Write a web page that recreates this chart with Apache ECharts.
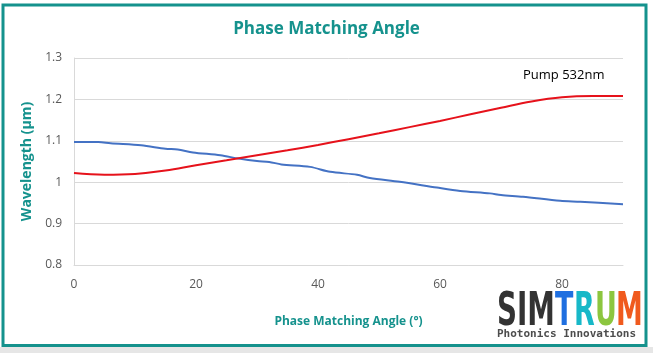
<!DOCTYPE html>
<html><head><meta charset="utf-8">
<script src="https://cdn.jsdelivr.net/npm/echarts@6/dist/echarts.min.js"></script>
<style>html,body{margin:0;padding:0;background:#fff}#c{width:653px;height:353px}</style>
</head><body><div id="c"></div>
<script>
var title = 'Phase Matching Angle';
var xName = 'Phase Matching Angle (°)';
var yName = 'Wavelength (µm)';
var xTicks = [0, 20, 40, 60, 80];
var yTicks = [0.8, 0.9, 1.0, 1.1, 1.2, 1.3];
var seriesLabel = 'Pump 532nm';

var redAngles = [0, 5, 10, 15, 20, 25, 30, 35, 40, 45, 50, 55, 60, 65, 70, 75, 80, 85, 90];
var redValues = [1.022, 1.018, 1.020, 1.028, 1.041, 1.053, 1.065, 1.077, 1.090, 1.104, 1.118, 1.133, 1.148, 1.164, 1.180, 1.195, 1.205, 1.208, 1.208];

var blueAngles = [0, 4, 6, 11, 15, 17, 19.5, 24, 27, 30, 32, 34, 38.7, 42, 46.4, 48.5, 53.4, 59.5, 63.3, 68.2, 70, 73.6, 79.7, 83, 90];
var blueValues = [1.097, 1.097, 1.094, 1.089, 1.081, 1.079, 1.072, 1.065, 1.057, 1.051, 1.049, 1.043, 1.037, 1.025, 1.018, 1.010, 1.001, 0.987, 0.979, 0.973, 0.969, 0.965, 0.955, 0.953, 0.947];

function pairs(xs, ys){ return xs.map(function(x,i){ return [x, ys[i]]; }); }

var teal = '#15928d';
var logoFont = 'bold 46px "DejaVu Sans Condensed"';
var logoLetters = [
  {t: 'T', x: 555, c: '#1f6fe0'},
  {t: 'R', x: 574, c: '#17b8c8'},
  {t: 'U', x: 595, c: '#8cc63f'},
  {t: 'M', x: 616, c: '#f05a1e'}
];
var logoGraphics = logoLetters.map(function(l){
  return {type: 'text', x: l.x, y: 290, scaleX: 0.65, style: {text: l.t, fill: l.c, font: logoFont}};
});

var chart = echarts.init(document.getElementById('c'), null, {renderer:'canvas'});
chart.setOption({
  animation: false,
  backgroundColor: '#fff',
  title: {
    text: title, left: 'center', top: 16,
    textStyle: {color: teal, fontFamily: 'Open Sans', fontWeight: 'bold', fontSize: 17}
  },
  grid: {left: 74, right: 30, top: 58, bottom: 88},
  xAxis: {
    type: 'value', min: 0, max: 90, interval: 20,
    name: xName, nameLocation: 'middle', nameGap: 51,
    nameTextStyle: {color: teal, fontFamily: 'Open Sans', fontWeight: 'bold', fontSize: 12},
    axisLine: {show: true, lineStyle: {color: '#d9d9d9'}},
    axisTick: {show: false},
    splitLine: {show: false},
    axisLabel: {color: '#595959', fontFamily: 'Open Sans', fontSize: 12, margin: 14,
      formatter: function(v){ return xTicks.indexOf(v) >= 0 ? String(v) : ''; }}
  },
  yAxis: {
    type: 'value', min: 0.8, max: 1.3, interval: 0.1,
    name: yName, nameLocation: 'middle', nameGap: 36,
    nameTextStyle: {color: teal, fontFamily: 'Open Sans', fontWeight: 'bold', fontSize: 14},
    axisLine: {show: true, lineStyle: {color: '#d9d9d9'}},
    axisTick: {show: false},
    splitLine: {show: true, lineStyle: {color: '#d9d9d9'}},
    axisLabel: {color: '#595959', fontFamily: 'Open Sans', fontSize: 12, margin: 12,
      formatter: function(v){ var r = Math.round(v*10)/10; return yTicks.indexOf(r) >= 0 ? String(r) : ''; }}
  },
  series: [
    {type: 'line', data: pairs(blueAngles, blueValues), showSymbol: false, smooth: 0.3,
      lineStyle: {color: '#4472c4', width: 2}},
    {type: 'line', data: pairs(redAngles, redValues), showSymbol: false, smooth: 0.4,
      lineStyle: {color: '#e6121b', width: 2}}
  ],
  graphic: [
    {type: 'rect', shape: {x: 0, y: 347, width: 653, height: 6}, style: {fill: '#e6e6e6'}, silent: true},
    {type: 'rect', shape: {x: 3, y: 5, width: 643, height: 340.5}, style: {fill: 'none', stroke: teal, lineWidth: 3}, silent: true},
    {type: 'text', left: 523, top: 69, style: {text: seriesLabel, fill: '#000', font: '13px "Open Sans"'}},
    {type: 'text', x: 497, y: 290, scaleX: 0.67, style: {text: 'SIM', fill: '#333333', font: logoFont}},
    {type: 'text', x: 497, y: 329, style: {text: 'Photonics Innovations', fill: '#4d4d4d', font: 'bold 11px "DejaVu Sans Mono"'}}
  ].concat(logoGraphics)
});
</script></body></html>
